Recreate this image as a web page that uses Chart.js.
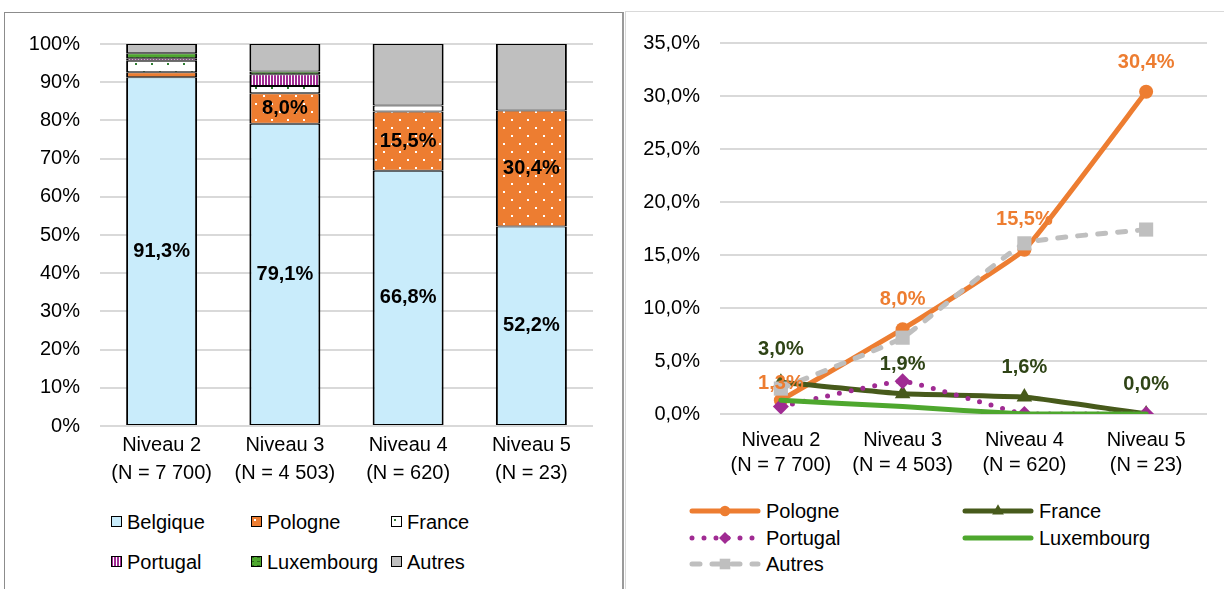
<!DOCTYPE html>
<html>
<head>
<meta charset="utf-8">
<script src="https://cdn.jsdelivr.net/npm/chart.js@4.4.1/dist/chart.umd.min.js"></script>
<style>
body { margin:0; background:#fff; width:1224px; height:589px; overflow:hidden; position:relative; font-family:"Liberation Sans", Arial, sans-serif; }
.panel-left { position:absolute; left:4px; top:12px; width:617px; height:600px; border-left:1px solid #8c8c8c; border-top:1px solid #8c8c8c; border-right:2px solid #9a9a9a; }
.panel-right { position:absolute; left:625px; top:11px; width:600px; height:600px; border-left:1px solid #d9d9d9; border-top:1px solid #d9d9d9; }
canvas.chart { position:absolute; }
.leg { position:absolute; font-size:20px; color:#000; height:24px; line-height:24px; white-space:nowrap; }
.leg canvas { position:absolute; left:0; }
.leg span { position:absolute; top:0; }
</style>
</head>
<body>
<div class="panel-left"></div>
<div class="panel-right"></div>
<canvas id="barChart" class="chart" width="618" height="478" style="left:4px;top:12px;"></canvas>
<canvas id="lineChart" class="chart" width="599" height="479" style="left:625px;top:11px;"></canvas>
<div id="legendBar"></div>
<div id="legendLine"></div>

<script>
// data (percent)
const categories = [
    ['Niveau 2', '(N = 7 700)'],
    ['Niveau 3', '(N = 4 503)'],
    ['Niveau 4', '(N = 620)'],
    ['Niveau 5', '(N = 23)']
];
const belgique   = [91.3, 79.1, 66.8, 52.2];
const pologne    = [1.3, 8.0, 15.5, 30.4];
const france     = [3.0, 1.9, 1.6, 0.0];
const portugal   = [0.7, 3.1, 0.0, 0.0];
const luxembourg = [1.3, 0.7, 0.0, 0.0];
const autres     = [2.4, 7.2, 16.1, 17.4];

const barAxisMax = 100, barAxisStep = 10;
const lineAxisMax = 35, lineAxisStep = 5;

const FONT = '"Liberation Sans", Arial, sans-serif';

function fmt1(v) { return v.toFixed(1).replace('.', ',') + '%'; }


//patterns for the stacked bars
function makePattern(w, h, bg, draw) {
    const c = document.createElement('canvas');
    c.width = w; c.height = h;
    const x = c.getContext('2d');
    x.fillStyle = bg;
    x.fillRect(0, 0, w, h);
    if (draw) draw(x);
    return x.createPattern(c, 'repeat');
}

const fillBelgique = '#C9ECFB';
const fillPologne = makePattern(16, 16, '#ED7D31', x => {
    x.fillStyle = '#fff';
    x.fillRect(3, 3, 2, 2);
    x.fillRect(11, 11, 2, 2);
});
const fillFrance = makePattern(16, 16, '#fff', x => {
    x.fillStyle = '#2E7D32';
    x.fillRect(3, 3, 2, 2);
    x.fillRect(11, 11, 2, 2);
});
const fillPortugal = makePattern(3, 3, '#fff', x => {
    x.fillStyle = '#A02B93';
    x.fillRect(0, 0, 2, 3);
});
const fillLux = makePattern(6, 4, '#4EA72E', x => {
    x.fillStyle = '#2B6B1A';
    x.fillRect(0, 1, 3, 1);
});
const fillAutres = '#BFBFBF';


// value labels (no datalabels plugin available)
const valueLabels = {
    id: 'valueLabels',
    afterDatasetsDraw(chart) {
        const ctx = chart.ctx;
        chart.data.datasets.forEach((ds, i) => {
            if (!ds.lbl) return;
            const meta = chart.getDatasetMeta(i);
            meta.data.forEach((el, j) => {
                const v = ds.data[j];
                if (v < ds.lbl.min) return;
                let y;
                if (meta.type === 'bar') {
                    y = (el.y + el.base) / 2;
                } else {
                    y = el.y - (ds.lbl.offsets ? ds.lbl.offsets[j] : 30);
                }
                ctx.save();
                ctx.font = 'bold 20px ' + FONT;
                ctx.fillStyle = ds.lbl.color;
                ctx.textAlign = 'center';
                ctx.textBaseline = 'middle';
                ctx.fillText(fmt1(v), el.x, y);
                ctx.restore();
            });
        });
    }
};


const barSeries = [
    { label: 'Belgique', data: belgique, fill: fillBelgique, lbl: { color: '#000', min: 5 } },
    { label: 'Pologne', data: pologne, fill: fillPologne, lbl: { color: '#000', min: 5 } },
    { label: 'France', data: france, fill: fillFrance },
    { label: 'Portugal', data: portugal, fill: fillPortugal },
    { label: 'Luxembourg', data: luxembourg, fill: fillLux },
    { label: 'Autres', data: autres, fill: fillAutres }
];

new Chart(document.getElementById('barChart').getContext('2d'), {
    type: 'bar',
    data: {
        labels: categories,
        datasets: barSeries.map(s => ({
            label: s.label,
            data: s.data,
            backgroundColor: s.fill,
            borderColor: '#000',
            borderWidth: { top: 1, bottom: 1, left: 2, right: 2 },
            borderSkipped: false,
            categoryPercentage: 1,
            barPercentage: 0.576,
            lbl: s.lbl
        }))
    },
    options: {
        responsive: false,
        animation: false,
        layout: { padding: { top: 26, right: 29, left: 0, bottom: 0 } },
        plugins: { legend: { display: false }, tooltip: { enabled: false } },
        scales: {
            x: {
                stacked: true,
                grid: { display: false },
                border: { display: false },
                ticks: { color: '#000', font: { family: FONT, size: 20, lineHeight: 1.4 }, padding: -3, maxRotation: 0 },
                afterFit(scale) { scale.height = 64; }
            },
            y: {
                stacked: true,
                min: 0, max: barAxisMax,
                grid: { color: '#D9D9D9', lineWidth: 2, drawTicks: false },
                border: { display: false },
                ticks: { stepSize: barAxisStep, color: '#000', font: { family: FONT, size: 20 }, padding: 20,
                    callback: v => v + '%' },
                afterFit(scale) { scale.width = 96; }
            }
        }
    },
    plugins: [valueLabels]
});


const lineSeries = [
    { label: 'Pologne', data: pologne, color: '#ED7D31', point: 'circle', radius: 7, dash: [], order: 5,
      lbl: { color: '#ED7D31', min: 0, offsets: [17, 30, 30, 29] } },
    { label: 'France', data: france, color: '#475A1B', point: 'triangle', radius: 9, dash: [], order: 4,
      lbl: { color: '#2F4416', min: 0, offsets: [33, 29, 30, 30] } },
    { label: 'Portugal', data: portugal, color: '#A02B93', point: 'rectRot', radius: 8, dash: [0, 12], order: 3 },
    { label: 'Luxembourg', data: luxembourg, color: '#4EA72E', point: false, radius: 0, dash: [], order: 2 },
    { label: 'Autres', data: autres, color: '#BFBFBF', point: 'rect', radius: 10, dash: [8, 12], order: 1 }
];

new Chart(document.getElementById('lineChart').getContext('2d'), {
    type: 'line',
    data: {
        labels: categories,
        datasets: lineSeries.map(s => ({
            label: s.label,
            data: s.data,
            borderColor: s.color,
            backgroundColor: s.color,
            borderWidth: 5,
            borderDash: s.dash,
            borderCapStyle: 'round',
            borderJoinStyle: 'round',
            tension: 0.1,
            pointStyle: s.point,
            pointRadius: s.radius,
            pointBorderWidth: 0,
            order: s.order,
            lbl: s.lbl
        }))
    },
    options: {
        responsive: false,
        animation: false,
        layout: { padding: { top: 29, right: 17, left: 0, bottom: 0 } },
        plugins: { legend: { display: false }, tooltip: { enabled: false } },
        scales: {
            x: {
                offset: true,
                grid: { display: false },
                border: { display: false },
                ticks: { color: '#000', font: { family: FONT, size: 20, lineHeight: 1.25 }, padding: 6, maxRotation: 0 },
                afterFit(scale) { scale.height = 76; }
            },
            y: {
                min: 0, max: lineAxisMax,
                grid: { color: '#D9D9D9', lineWidth: 2, drawTicks: false },
                border: { display: false },
                ticks: { stepSize: lineAxisStep, color: '#000', font: { family: FONT, size: 20 }, padding: 20,
                    callback: v => fmt1(v) },
                afterFit(scale) { scale.width = 95; }
            }
        }
    },
    plugins: [valueLabels]
});


// legends
function legendItem(parent, left, top, swatch, swLeft, textLeft, text) {
    const d = document.createElement('div');
    d.className = 'leg';
    d.style.left = left + 'px';
    d.style.top = top + 'px';
    swatch.style.left = swLeft + 'px';
    d.appendChild(swatch);
    const s = document.createElement('span');
    s.style.left = textLeft + 'px';
    s.textContent = text;
    d.appendChild(s);
    parent.appendChild(d);
}

const legBar = document.getElementById('legendBar');
const barLegCols = [111, 251, 391];
const barLegRows = [510, 550];
barSeries.forEach((s, i) => {
    const c = document.createElement('canvas');
    c.width = 11; c.height = 11;
    c.style.top = '6px';
    const x = c.getContext('2d');
    x.fillStyle = s.fill;
    x.fillRect(0, 0, 11, 11);
    x.strokeStyle = '#000';
    x.lineWidth = 1;
    x.strokeRect(0.5, 0.5, 10, 10);
    legendItem(legBar, barLegCols[i % 3], barLegRows[Math.floor(i / 3)], c, 0, 16, s.label);
});

function drawMarker(x, style, cx, cy, r, color) {
    x.fillStyle = color;
    x.beginPath();
    if (style === 'circle') {
        x.arc(cx, cy, r, 0, Math.PI * 2);
    } else if (style === 'triangle') {
        x.moveTo(cx, cy - r);
        x.lineTo(cx + r * 0.87, cy + r * 0.5);
        x.lineTo(cx - r * 0.87, cy + r * 0.5);
    } else if (style === 'rectRot') {
        x.moveTo(cx, cy - r); x.lineTo(cx + r, cy); x.lineTo(cx, cy + r); x.lineTo(cx - r, cy);
    } else if (style === 'rect') {
        const h = r * Math.SQRT1_2;
        x.rect(cx - h, cy - h, 2 * h, 2 * h);
    }
    x.closePath();
    x.fill();
}

const legLine = document.getElementById('legendLine');
const lineLegCols = [687, 960];
const lineLegRows = [499, 525.5, 552];
lineSeries.forEach((s, i) => {
    const c = document.createElement('canvas');
    c.width = 76; c.height = 24;
    c.style.top = '0px';
    const x = c.getContext('2d');
    x.strokeStyle = s.color;
    x.lineWidth = 5;
    x.lineCap = 'round';
    x.setLineDash(s.dash);
    x.beginPath();
    x.moveTo(5, 12); x.lineTo(71, 12);
    x.stroke();
    x.setLineDash([]);
    if (s.point) drawMarker(x, s.point, 38, 12, s.radius * 0.75, s.color);
    legendItem(legLine, lineLegCols[i % 2], lineLegRows[Math.floor(i / 2)], c, 0, 79, s.label);
});
</script>
</body>
</html>
